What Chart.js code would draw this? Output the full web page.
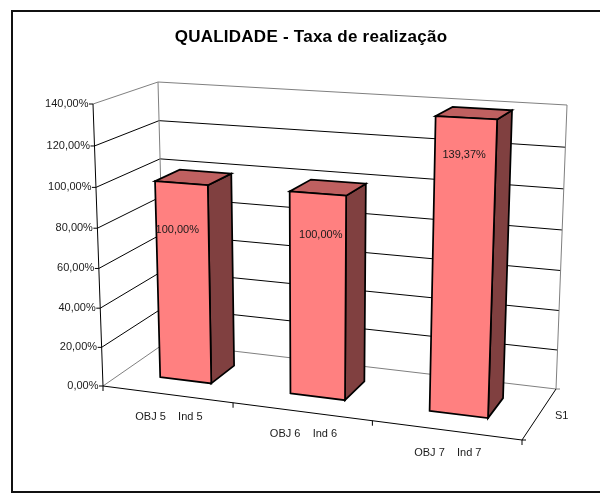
<!DOCTYPE html>
<html>
<head>
<meta charset="utf-8">
<style>html,body{margin:0;padding:0;background:#fff}canvas{display:block}</style>
<script src="https://cdn.jsdelivr.net/npm/chart.js@4"></script>
</head>
<body>
<canvas id="c" width="600" height="495"></canvas>
<script>
const categories = ["OBJ 5    Ind 5", "OBJ 6    Ind 6", "OBJ 7    Ind 7"];
const seriesName = "S1";
const seriesValues = [100, 100, 139.37];
const valueLabels = ["100,00%", "100,00%", "139,37%"];
const yMax = 140, yStep = 20;
const chartTitle = "QUALIDADE - Taxa de realização";

// 3D projection of the plot box (layout, not data)
const FRONT = [[103,386],[522,440],[534,128],[93,104]]; // BL, BR, TR, TL
const BACK  = [[165,343],[556,389],[567,105],[158,82]];
const DEPTH_RATIO = 1.09, BAR_W0 = 0.3, BAR_W1 = 0.7;
const labelDrop = [47, 41, 37];
const labelShift = [-4, 3, -2];

function homography(q){
  const [[x0,y0],[x1,y1],[x2,y2],[x3,y3]] = q;
  const dx1=x1-x2, dx2=x3-x2, sx=x0-x1+x2-x3;
  const dy1=y1-y2, dy2=y3-y2, sy=y0-y1+y2-y3;
  const den=dx1*dy2-dx2*dy1;
  const g=(sx*dy2-dx2*sy)/den, h=(dx1*sy-sx*dy1)/den;
  const a=x1-x0+g*x1, b=x3-x0+h*x3, d=y1-y0+g*y1, e=y3-y0+h*y3;
  return (u,v)=>{const w=g*u+h*v+1;return [(a*u+b*v+x0)/w,(d*u+e*v+y0)/w];};
}
const hFront=homography(FRONT), hBack=homography(BACK);
function project(u,v,w){
  const f=hFront(u,v), b=hBack(u,v);
  const t=w*DEPTH_RATIO/((1-w)+w*DEPTH_RATIO);
  return [f[0]+(b[0]-f[0])*t, f[1]+(b[1]-f[1])*t];
}
function seg(ctx,a,b,color,lw){
  ctx.beginPath();ctx.moveTo(a[0],a[1]);ctx.lineTo(b[0],b[1]);
  ctx.strokeStyle=color;ctx.lineWidth=lw;ctx.stroke();
}
function poly(ctx,pts,fill){
  ctx.beginPath();pts.forEach((p,i)=>i?ctx.lineTo(p[0],p[1]):ctx.moveTo(p[0],p[1]));ctx.closePath();
  ctx.fillStyle=fill;ctx.fill();
  ctx.strokeStyle="#000";ctx.lineWidth=1.75;ctx.lineJoin="miter";ctx.stroke();
}
const TEXT="#1a1a1a", GRID="#000", WALL="#808080";
const FONT='11px "Liberation Sans", Arial, sans-serif';

const box3d={
  id:"box3d",
  beforeDraw(chart){
    const ctx=chart.ctx;
    ctx.save();
    ctx.fillStyle="#fff";ctx.fillRect(0,0,600,495);
    ctx.strokeStyle="#111";ctx.lineWidth=2;ctx.strokeRect(12,11,600,481);
    ctx.restore();
    ctx.letterSpacing="0.25px";
  },
  beforeDatasetsDraw(chart){
    const ctx=chart.ctx, y=chart.scales.y, a=chart.chartArea;
    ctx.letterSpacing="0px";
    const vOf=val=>(a.bottom-y.getPixelForValue(val))/(a.bottom-a.top);
    ctx.save();
    y.ticks.forEach(t=>{
      const v=vOf(t.value);
      const edge=(t.value===0||t.value===yMax);
      const col=edge?WALL:GRID;
      seg(ctx,project(0,v,0),project(0,v,1),col,1);
      seg(ctx,project(0,v,1),project(1,v,1),col,1);
    });
    seg(ctx,project(0,0,1),project(0,1,1),WALL,1);
    seg(ctx,project(1,0,1),project(1,1,1),WALL,1);
    ctx.restore();
  },
  beforeDatasetDraw(chart,args){
    const ctx=chart.ctx, a=chart.chartArea, meta=args.meta;
    const W=a.right-a.left, H=a.bottom-a.top;
    ctx.save();
    meta.data.forEach(el=>{
      const p=el.getProps(["x","y","base","width"],true);
      const u0=(p.x-p.width/2-a.left)/W, u1=(p.x+p.width/2-a.left)/W;
      const v1=(a.bottom-p.y)/H, v0=(a.bottom-p.base)/H;
      const w0=BAR_W0, w1=BAR_W1;
      poly(ctx,[project(u1,v0,w0),project(u1,v0,w1),project(u1,v1,w1),project(u1,v1,w0)],"#804040");
      poly(ctx,[project(u0,v1,w0),project(u1,v1,w0),project(u1,v1,w1),project(u0,v1,w1)],"#BF6060");
      poly(ctx,[project(u0,v0,w0),project(u1,v0,w0),project(u1,v1,w0),project(u0,v1,w0)],"#FF8080");
    });
    ctx.restore();
    return false;
  },
  afterDatasetsDraw(chart){
    const ctx=chart.ctx, y=chart.scales.y, x=chart.scales.x, a=chart.chartArea;
    const vOf=val=>(a.bottom-y.getPixelForValue(val))/(a.bottom-a.top);
    const W=a.right-a.left;
    ctx.save();
    // axes
    seg(ctx,project(0,0,0),project(0,1,0),GRID,1);
    seg(ctx,project(0,0,0),project(1,0,0),GRID,1);
    seg(ctx,project(1,0,0),project(1,0,1),GRID,1);
    ctx.font=FONT;ctx.fillStyle=TEXT;
    // value axis
    ctx.textAlign="right";ctx.textBaseline="middle";
    y.ticks.forEach(t=>{
      const p=project(0,vOf(t.value),0);
      seg(ctx,[p[0]-4,p[1]],p,GRID,1);
      ctx.fillText(t.label,p[0]-4.5,p[1]);
    });
    // category axis
    const n=categories.length;
    for(let i=0;i<=n;i++){
      const p=project(i/n,0,0);
      seg(ctx,p,[p[0],p[1]+5],GRID,1);
    }
    ctx.textAlign="center";
    x.ticks.forEach((t,i)=>{
      const p=project((x.getPixelForTick(i)-a.left)/W,0,0);
      ctx.fillText(x.getLabelForValue(t.value),p[0]+2,p[1]+22.5);
    });
    // depth axis
    const d0=project(1,0,0), d1=project(1,0,1);
    seg(ctx,d0,[d0[0]+4,d0[1]],GRID,1);
    seg(ctx,d1,[d1[0]+4,d1[1]],WALL,1);
    ctx.textAlign="left";
    ctx.fillText(chart.data.datasets[0].label,(d0[0]+d1[0])/2+16,(d0[1]+d1[1])/2+1);
    // data labels
    ctx.textAlign="center";
    chart.getDatasetMeta(0).data.forEach((el,i)=>{
      const u=(el.x-a.left)/W, v=(a.bottom-el.y)/(a.bottom-a.top);
      const p=project(u,v,BAR_W0);
      ctx.fillText(valueLabels[i],p[0]+labelShift[i],p[1]+labelDrop[i]);
    });
    ctx.restore();
  }
};

new Chart(document.getElementById("c"),{
  type:"bar",
  data:{labels:categories,datasets:[{label:seriesName,data:seriesValues,backgroundColor:"#FF8080",borderColor:"#000",categoryPercentage:1,barPercentage:0.4}]},
  plugins:[box3d],
  options:{
    responsive:false,animation:false,
    layout:{padding:{top:10,left:82,right:60,bottom:60}},
    plugins:{
      legend:{display:false},tooltip:{enabled:false},
      title:{display:true,text:chartTitle,color:"#000",padding:{top:17,bottom:10},
        font:{family:'"Liberation Sans", Arial, sans-serif',size:17,weight:"bold"}}
    },
    scales:{
      x:{display:false,offset:true},
      y:{display:false,min:0,max:yMax,ticks:{stepSize:yStep,callback:v=>v.toFixed(2).replace(".",",")+"%"}}
    }
  }
});
</script>
</body>
</html>
